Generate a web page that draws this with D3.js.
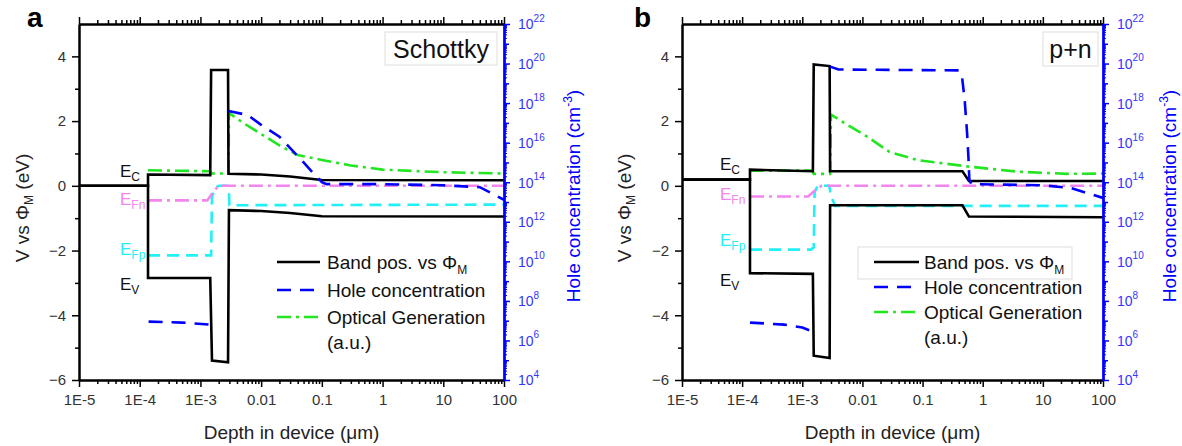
<!DOCTYPE html>
<html><head><meta charset="utf-8">
<script src="https://cdn.jsdelivr.net/npm/d3@7"></script>
<style>
body{margin:0;background:#fff;}
svg{display:block;font-family:"Liberation Sans",Arial,sans-serif;}
</style>
</head><body>
<svg id="chart" width="1182" height="446"></svg>
<script>
// ---------- shared axis data ----------
const xTickValues = [1e-5, 1e-4, 1e-3, 0.01, 0.1, 1, 10, 100];
const xTickLabels = ["1E-5", "1E-4", "1E-3", "0.01", "0.1", "1", "10", "100"];
const yTickValues = [-6, -4, -2, 0, 2, 4];
const yMinorValues = [-5, -3, -1, 1, 3];
const rightTickExponents = [4, 6, 8, 10, 12, 14, 16, 18, 20, 22];
const legendLabels = ["Band pos. vs \u03A6", "Hole concentration", "Optical Generation", "(a.u.)"];

// ---------- panel a (Schottky) : [depth um, V] ----------
const aEc  = [[1e-5,0],[1.37e-4,0],[1.37e-4,0.35],[1.45e-3,0.33],[1.5e-3,3.58],[2.85e-3,3.58],[2.9e-3,0.37],[0.01,0.35],[0.03,0.29],[0.1,0.18],[100,0.17]];
const aEv  = [[1e-5,0],[1.37e-4,0],[1.37e-4,-2.85],[1.45e-3,-2.85],[1.55e-3,-5.4],[2.85e-3,-5.45],[2.95e-3,-0.75],[0.01,-0.78],[0.03,-0.84],[0.1,-0.94],[100,-0.95]];
const aEfn = [[1.37e-4,-0.45],[1.3e-3,-0.45],[1.6e-3,-0.2],[2.0e-3,0],[100,0]];
const aEfp = [[1.37e-4,-2.15],[1.5e-3,-2.15],[1.55e-3,-0.35],[1.75e-3,-0.05],[2.0e-3,0],[2.8e-3,0],[2.95e-3,-0.15],[3.0e-3,-0.6],[100,-0.58]];
const aOpt = [[1.37e-4,0.48],[1.45e-3,0.45],[1.55e-3,0.38],[2.9e-3,0.38],[2.95e-3,2.25],[0.005,1.95],[0.01,1.6],[0.02,1.25],[0.04,0.95],[0.1,0.8],[0.3,0.63],[1,0.5],[10,0.42],[100,0.38]];
const aHoleLeft  = [[1.4e-4,8.9e6],[5e-4,8e6],[1.5e-3,6.3e6]];
const aHoleRight = [[2.9e-3,4e17],[0.006,2.5e17],[0.01,8e16],[0.02,2e16],[0.035,3.2e15],[0.05,1e15],[0.07,3.2e14],[0.1,1e14],[0.12,8e13],[1,8e13],[10,7e13],[40,5.6e13],[100,1.3e13]];

// ---------- panel b (p+n) ----------
const bEc  = [[1e-5,0.19],[1.35e-4,0.19],[1.35e-4,0.5],[1.5e-3,0.45],[1.55e-3,3.75],[2.85e-3,3.7],[2.9e-3,0.45],[0.46,0.45],[0.59,0.15],[100,0.15]];
const bEv  = [[1e-5,0.19],[1.35e-4,0.19],[1.35e-4,-2.7],[1.5e-3,-2.72],[1.55e-3,-5.25],[2.85e-3,-5.32],[2.9e-3,-0.6],[0.46,-0.6],[0.59,-0.95],[100,-0.97]];
const bEfn = [[1.35e-4,-0.33],[1.25e-3,-0.33],[1.6e-3,-0.15],[2.1e-3,0],[100,0]];
const bEfp = [[1.35e-4,-1.97],[1.4e-3,-1.97],[1.55e-3,-1.9],[1.6e-3,-0.2],[1.8e-3,0],[2.8e-3,0],[3.0e-3,-0.3],[3.5e-3,-0.62],[100,-0.62]];
const bOpt = [[1.35e-4,0.47],[1.45e-3,0.47],[1.55e-3,0.37],[2.9e-3,0.37],[3.0e-3,2.2],[0.006,1.85],[0.012,1.52],[0.028,1.05],[0.08,0.8],[0.55,0.6],[3.7,0.44],[25,0.37],[100,0.38]];
const bHoleLeft  = [[1.35e-4,8e6],[5e-4,6.3e6],[1e-3,4.5e6],[1.5e-3,2.8e6]];
const bHoleRight = [[2.9e-3,7e19],[0.004,5e19],[0.4,4.5e19],[0.45,2.5e19],[0.5,1.6e18],[0.55,3e16],[0.58,1.6e15],[0.6,1.3e14],[0.65,8e13],[10,7e13],[30,5e13],[100,1.6e13]];

const panels = [
  {letter:"a", tag:"Schottky", x0:79, x1:504, yt:24, yb:380,
   ec:aEc, ev:aEv, efn:aEfn, efp:aEfp, opt:aOpt, holes:[aHoleLeft,aHoleRight],
   letterX:27, yTitleX:22, rTitleX:573, tagBox:[385,32,112,33],
   leg:{lx0:277,lx1:320,tx:327,ys:[262,290,317,342],box:null},
   eLab:{x:120, ys:[177,205,255,290]}},
  {letter:"b", tag:"p+n", x0:682, x1:1103, yt:24, yb:380,
   ec:bEc, ev:bEv, efn:bEfn, efp:bEfp, opt:bOpt, holes:[bHoleLeft,bHoleRight],
   letterX:634, yTitleX:624, rTitleX:1169, tagBox:[1043,32,55,34],
   leg:{lx0:874,lx1:919,tx:924,ys:[262,287,312,337],box:[858,247,214,32]},
   eLab:{x:720, ys:[170,200,246,286]}}
];

const svg = d3.select("#chart");
const BLUE = "#0000ff", GREEN = "#22e622", PINK = "#f285ee", CYAN = "#22f0f5";
const TICKC = "#333";

function minorLog(lo, hi){
  const out=[];
  for(let e=lo;e<hi;e++) for(let k=2;k<=9;k++) out.push(k*Math.pow(10,e));
  return out;
}

panels.forEach((P,pi)=>{
  const g = svg.append("g");
  const x = d3.scaleLog().domain([1e-5,100]).range([P.x0,P.x1]);
  const y = d3.scaleLinear().domain([-6,5]).range([P.yb,P.yt]);
  const yr = d3.scaleLog().domain([1e4,1e22]).range([P.yb,P.yt]);

  const clipId = "clip"+pi;
  g.append("clipPath").attr("id",clipId).append("rect")
    .attr("x",P.x0).attr("y",P.yt).attr("width",P.x1-P.x0).attr("height",P.yb-P.yt);

  const plot = g.append("g").attr("clip-path",`url(#${clipId})`);
  const lineV = d3.line().x(d=>x(d[0])).y(d=>y(d[1]));
  const lineP = d3.line().x(d=>x(d[0])).y(d=>yr(d[1]));

  plot.append("path").datum(P.efp).attr("d",lineV).attr("fill","none")
    .attr("stroke",CYAN).attr("stroke-width",2.6).attr("stroke-dasharray","12,7");
  plot.append("path").datum(P.efn).attr("d",lineV).attr("fill","none")
    .attr("stroke",PINK).attr("stroke-width",2.6).attr("stroke-dasharray","14,5,3,5");
  plot.append("path").datum(P.opt).attr("d",lineV).attr("fill","none")
    .attr("stroke",GREEN).attr("stroke-width",2.6).attr("stroke-dasharray","14,5,3,5");
  [P.ec,P.ev].forEach(d=>{
    plot.append("path").datum(d).attr("d",lineV).attr("fill","none")
      .attr("stroke","#000").attr("stroke-width",2.6).attr("stroke-linejoin","miter");
  });
  P.holes.forEach(d=>{
    plot.append("path").datum(d).attr("d",lineP).attr("fill","none")
      .attr("stroke",BLUE).attr("stroke-width",2.6).attr("stroke-dasharray","14,9");
  });

  // ---- axes ----
  const styleAxis = (sel,color)=>{
    sel.select(".domain").attr("stroke",color).attr("stroke-width",2);
    sel.selectAll(".tick line").attr("stroke",color).attr("stroke-width",1.5);
    sel.selectAll(".tick text").attr("fill",color===BLUE?"#3535ff":TICKC).attr("font-size",15);
  };
  const minorX = minorLog(-5,2);
  const bx = g.append("g").attr("transform",`translate(0,${P.yb})`)
    .call(d3.axisBottom(x).tickValues(xTickValues).tickFormat((d,i)=>xTickLabels[i]).tickSize(7).tickPadding(7).tickSizeOuter(0));
  styleAxis(bx,"#000");
  const bxm = g.append("g").attr("transform",`translate(0,${P.yb})`)
    .call(d3.axisBottom(x).tickValues(minorX).tickFormat("").tickSize(4).tickSizeOuter(0));
  styleAxis(bxm,"#000");
  const tx = g.append("g").attr("transform",`translate(0,${P.yt})`)
    .call(d3.axisTop(x).tickValues(xTickValues).tickFormat("").tickSize(7).tickSizeOuter(0));
  styleAxis(tx,"#000");
  const txm = g.append("g").attr("transform",`translate(0,${P.yt})`)
    .call(d3.axisTop(x).tickValues(minorX).tickFormat("").tickSize(4).tickSizeOuter(0));
  styleAxis(txm,"#000");
  const ly = g.append("g").attr("transform",`translate(${P.x0},0)`)
    .call(d3.axisLeft(y).tickValues(yTickValues).tickSize(7).tickPadding(6).tickSizeOuter(0));
  styleAxis(ly,"#000");
  const lym = g.append("g").attr("transform",`translate(${P.x0},0)`)
    .call(d3.axisLeft(y).tickValues(yMinorValues).tickFormat("").tickSize(4).tickSizeOuter(0));
  styleAxis(lym,"#000");
  const minorR = minorLog(4,22);
  const oddDec = d3.range(5,22,2).map(e=>Math.pow(10,e));
  const rm = g.append("g").attr("transform",`translate(${P.x1},0)`)
    .call(d3.axisRight(yr).tickValues(minorR).tickFormat("").tickSize(3).tickSizeOuter(0));
  styleAxis(rm,BLUE);
  rm.selectAll(".tick line").attr("stroke-width",1);
  const ro = g.append("g").attr("transform",`translate(${P.x1},0)`)
    .call(d3.axisRight(yr).tickValues(oddDec).tickFormat("").tickSize(5).tickSizeOuter(0));
  styleAxis(ro,BLUE);
  const ry = g.append("g").attr("transform",`translate(${P.x1},0)`)
    .call(d3.axisRight(yr).tickValues(rightTickExponents.map(e=>Math.pow(10,e))).tickFormat("").tickSize(6).tickSizeOuter(0));
  styleAxis(ry,BLUE);
  ry.selectAll(".tick").each(function(d,i){
    const t = d3.select(this).append("text").attr("x",14).attr("dy","0.35em")
      .attr("fill","#3535ff").attr("font-size",14).attr("text-anchor","start");
    t.append("tspan").text("10");
    t.append("tspan").attr("font-size",10).attr("dy","-0.75em").text(rightTickExponents[i]);
  });

  // ---- titles ----
  g.append("text").attr("x",P.letterX).attr("y",27).attr("font-size",28)
    .attr("font-weight","bold").text(P.letter);
  g.append("text").attr("x",(P.x0+P.x1)/2).attr("y",439).attr("text-anchor","middle")
    .attr("font-size",19).attr("fill","#222").text("Depth in device (\u03BCm)");
  const yt = g.append("text").attr("transform",`translate(${P.yTitleX},208) rotate(-90)`)
    .attr("text-anchor","middle").attr("font-size",19).attr("fill","#222").attr("dy","0.35em");
  yt.append("tspan").text("V vs \u03A6");
  yt.append("tspan").attr("font-size",12).attr("dy","0.4em").text("M");
  yt.append("tspan").attr("dy","-0.25em").text(" (eV)");
  const rt = g.append("text").attr("transform",`translate(${P.rTitleX},196) rotate(-90)`)
    .attr("text-anchor","middle").attr("font-size",19).attr("fill",BLUE).attr("dy","0.35em");
  rt.append("tspan").text("Hole concentration (cm");
  rt.append("tspan").attr("font-size",12).attr("dy","-0.6em").text("-3");
  rt.append("tspan").attr("dy","0.38em").text(")");

  // tag box
  const tb = P.tagBox;
  g.append("rect").attr("x",tb[0]).attr("y",tb[1]).attr("width",tb[2]).attr("height",tb[3])
    .attr("fill","#fff").attr("stroke","#ddd").attr("stroke-width",1);
  g.append("text").attr("x",tb[0]+tb[2]/2).attr("y",tb[1]+tb[3]/2+9).attr("text-anchor","middle")
    .attr("font-size",25).attr("fill","#111").text(P.tag);

  // E labels
  const eL = [["C","#111"],["Fn",PINK],["Fp",CYAN],["V","#111"]];
  eL.forEach((e,i)=>{
    const t = g.append("text").attr("x",P.eLab.x).attr("y",P.eLab.ys[i]).attr("font-size",17).attr("fill",e[1]);
    t.append("tspan").text("E");
    t.append("tspan").attr("font-size",12).attr("dy","0.3em").text(e[0]);
  });

  // legend
  const L = P.leg;
  if(L.box){
    g.append("rect").attr("x",L.box[0]).attr("y",L.box[1]).attr("width",L.box[2]).attr("height",L.box[3])
      .attr("fill","#fff").attr("stroke","#ddd").attr("stroke-width",1);
  }
  const styles = [["#000",null],[BLUE,"14,9"],[GREEN,"14,5,3,5"]];
  styles.forEach((s,i)=>{
    g.append("line").attr("x1",L.lx0).attr("x2",L.lx1).attr("y1",L.ys[i]).attr("y2",L.ys[i])
      .attr("stroke",s[0]).attr("stroke-width",2.6).attr("stroke-dasharray",s[1]);
  });
  legendLabels.forEach((lab,i)=>{
    const t = g.append("text").attr("x",L.tx).attr("y",L.ys[i]).attr("dy","0.35em")
      .attr("font-size",19).attr("fill","#111");
    t.append("tspan").text(lab);
    if(i===0) t.append("tspan").attr("font-size",12).attr("dy","0.45em").text("M");
  });
});
</script>
</body></html>
